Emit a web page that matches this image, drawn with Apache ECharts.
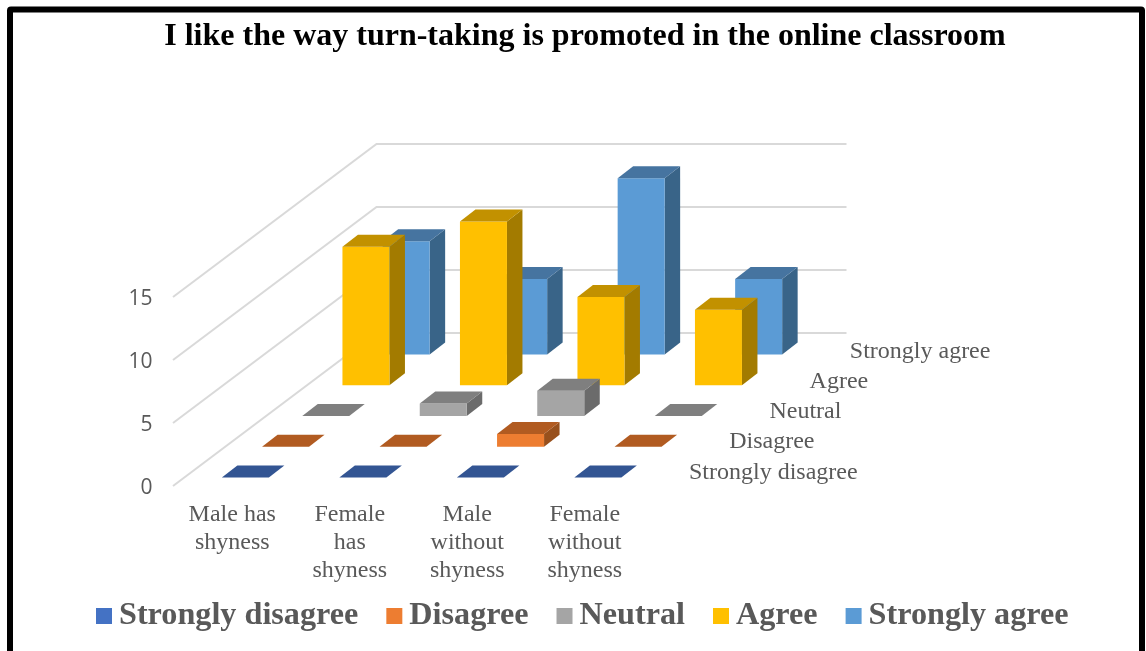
<!DOCTYPE html>
<html>
<head>
<meta charset="utf-8">
<style>html,body{margin:0;padding:0;background:#fff}#c{width:1146px;height:651px}</style>
<script src="https://cdn.jsdelivr.net/npm/echarts@6/dist/echarts.min.js"></script>
</head>
<body>
<div id="c"></div>
<script>
const titleText = 'I like the way turn-taking is promoted in the online classroom';
const categories = ['Male has\nshyness', 'Female\nhas\nshyness', 'Male\nwithout\nshyness', 'Female\nwithout\nshyness'];
const yTicks = [0, 5, 10, 15];
const rowNames = ['Strongly disagree', 'Disagree', 'Neutral', 'Agree', 'Strongly agree'];
const stronglyDisagree = [0, 0, 0, 0];
const disagree = [0, 0, 1, 0];
const neutral = [0, 1, 2, 0];
const agree = [11, 13, 7, 6];
const stronglyAgree = [9, 6, 14, 6];
const rowValues = [stronglyDisagree, disagree, neutral, agree, stronglyAgree];
const faceColors = ['#4472C4', '#ED7D31', '#A5A5A5', '#FFC000', '#5B9BD5'];
const topColors = ['#335593', '#B15B21', '#7F7F7F', '#C29100', '#4674A0'];
const sideColors = ['#2A4A82', '#98501C', '#6B6B6B', '#A37B00', '#396488'];

const FONT = '"Liberation Serif", serif';
const GRAY = '#595959';
const DEPTH = {dx: 203.5, dy: 153};
const ROW = {dx: 40.2, dy: 30.7, x0: 13.1, y0: 8.6};
const BAR = {w: 47, dx: 15.5, dy: 12};

function barRender(row) {
  return function (params, api) {
    const idx = api.value(0), val = api.value(1);
    const b = api.coord([idx, 0]), t = api.coord([idx, val]);
    const xl = b[0] + ROW.x0 + row * ROW.dx - BAR.w / 2, xr = xl + BAR.w;
    const off = ROW.y0 + row * ROW.dy;
    const yb = b[1] - off, yt = t[1] - off;
    const children = [];
    if (val > 0) {
      children.push({type: 'polygon', shape: {points: [[xr, yb], [xr + BAR.dx, yb - BAR.dy], [xr + BAR.dx, yt - BAR.dy], [xr, yt]]}, style: {fill: sideColors[row]}});
      children.push({type: 'rect', shape: {x: xl, y: yt, width: BAR.w, height: yb - yt}, style: {fill: faceColors[row]}});
    }
    children.push({type: 'polygon', shape: {points: [[xl, yt], [xr, yt], [xr + BAR.dx, yt - BAR.dy], [xl + BAR.dx, yt - BAR.dy]]}, style: {fill: topColors[row]}});
    return {type: 'group', children};
  };
}

const barSeries = rowNames.map((name, row) => ({
  type: 'custom',
  name,
  z: 10 - row,
  silent: true,
  itemStyle: {color: faceColors[row]},
  data: rowValues[row].map((v, i) => [i, v]),
  encode: {x: 0, y: 1},
  renderItem: barRender(row)
}));

const wallSeries = {
  type: 'custom',
  name: 'walls',
  z: 1,
  silent: true,
  data: yTicks.map(v => [0, v]),
  encode: {x: 0, y: 1},
  renderItem(params, api) {
    const p = api.coord([0, api.value(1)]);
    const cs = params.coordSys;
    const x0 = cs.x - 0.5;
    return {type: 'polyline', shape: {points: [[x0, p[1]], [x0 + DEPTH.dx, p[1] - DEPTH.dy], [x0 + DEPTH.dx + 470, p[1] - DEPTH.dy]]},
      style: {stroke: '#D9D9D9', lineWidth: 2, fill: null}};
  }
};

const rowLabelSeries = {
  type: 'custom',
  name: 'rowLabels',
  z: 20,
  silent: true,
  data: rowNames.map((n, i) => [3, 0, i]),
  encode: {x: 0, y: 1},
  renderItem(params, api) {
    const cs = params.coordSys;
    const p = api.coord([3, 0]);
    const i = api.value(2);
    return {type: 'text', style: {x: cs.x + cs.width + 45.5 + i * 40.2, y: p[1] - 13.5 - i * 30.3, text: rowNames[i], font: '24px ' + FONT, fill: GRAY, textAlign: 'left', textVerticalAlign: 'middle'}};
  }
};

const chart = echarts.init(document.getElementById('c'), null, {renderer: 'canvas'});
chart.setOption({
  animation: false,
  backgroundColor: '#fff',
  title: {text: titleText, left: 580, top: 16, textAlign: 'center',
    textStyle: {fontFamily: FONT, fontWeight: 'bold', fontSize: 32, color: '#000'}},
  legend: {data: rowNames, left: 91, top: 595, icon: 'rect', itemWidth: 16, itemHeight: 16, itemGap: 28, selectedMode: false,
    textStyle: {fontFamily: FONT, fontWeight: 'bold', fontSize: 32.2, color: GRAY, padding: [0, 0, 0, 2]}},
  grid: {left: 173.5, width: 470, top: 297, height: 189, containLabel: false},
  xAxis: {type: 'category', data: categories, axisLine: {show: false}, axisTick: {show: false}, splitLine: {show: false},
    axisLabel: {interval: 0, margin: 15, fontFamily: FONT, fontSize: 24, lineHeight: 28, color: GRAY}},
  yAxis: {type: 'value', min: 0, max: 15, interval: 5, axisLine: {show: false}, axisTick: {show: false}, splitLine: {show: false},
    axisLabel: {margin: 21, formatter: '{a|{value}}',
      rich: {a: {fontFamily: '"Open Sans"', fontSize: 21, color: GRAY, padding: [4, 0, 0, 0]}}}},
  series: [wallSeries, ...barSeries, rowLabelSeries],
  graphic: [{type: 'rect', z: 100, silent: true, shape: {x: 10, y: 9.5, width: 1132, height: 700, r: 1}, style: {fill: null, stroke: '#000', lineWidth: 6}}]
});
</script>
</body>
</html>
